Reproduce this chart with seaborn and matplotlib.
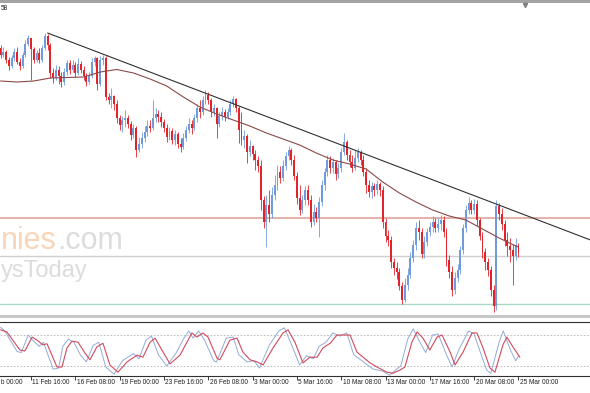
import numpy as np
import pandas as pd
import matplotlib
matplotlib.use("Agg")
import matplotlib.pyplot as plt
import matplotlib.transforms as mtrans
from matplotlib.patches import Rectangle
import seaborn as sns

sns.set_style("white")
plt.rcParams['font.family'] = ['Liberation Sans', 'DejaVu Sans']

# ---------------------------------------------
# H4 candles, 9 Feb - 25 Mar (price in points)
# ---------------------------------------------
first_open = 352
close_ = [345, 348, 340, 334, 342, 348, 338, 334, 345, 356,
          362, 351, 340, 347, 340, 352, 364, 355, 327, 322,
          330, 324, 318, 328, 337, 330, 335, 327, 336, 330,
          324, 318, 324, 338, 342, 316, 340, 342, 303, 300,
          304, 296, 282, 275, 280, 282, 276, 265, 272, 250,
          256, 262, 268, 274, 272, 282, 286, 283, 278, 272,
          263, 269, 260, 266, 256, 253, 262, 270, 276, 272,
          282, 292, 288, 300, 305, 300, 288, 292, 276, 284,
          288, 283, 288, 296, 301, 292, 270, 260, 264, 248,
          254, 246, 240, 234, 200, 178, 195, 186, 205, 215,
          228, 222, 234, 244, 250, 240, 224, 202, 190, 200,
          210, 200, 178, 188, 182, 198, 215, 228, 240, 232,
          238, 226, 232, 248, 258, 245, 238, 232, 242, 248,
          240, 228, 215, 208, 214, 210, 216, 210, 178, 164,
          160, 138, 132, 128, 114, 100, 115, 125, 142, 155,
          172, 168, 146, 158, 168, 173, 178, 172, 176, 180,
          168, 140, 128, 110, 122, 130, 150, 172, 190, 197,
          190, 196, 180, 164, 148, 138, 130, 110, 94, 194,
          186, 176, 160, 154, 150, 144, 155, 147]
high_ = [355, 353, 350, 343, 345, 352, 353, 342, 348, 360,
         365, 362, 353, 350, 352, 355, 367, 366, 357, 332,
         335, 334, 328, 332, 340, 340, 340, 338, 342, 339,
         334, 327, 328, 342, 344, 343, 344, 345, 344, 307,
         312, 305, 300, 285, 284, 290, 285, 279, 276, 274,
         263, 268, 274, 280, 280, 300, 292, 290, 288, 281,
         276, 273, 272, 270, 268, 262, 267, 274, 282, 280,
         286, 296, 300, 304, 310, 308, 302, 296, 293, 288,
         293, 291, 292, 300, 304, 302, 294, 288, 270, 266,
         260, 255, 250, 244, 240, 204, 205, 210, 213, 225,
         235, 234, 240, 248, 254, 252, 245, 228, 215, 205,
         214, 215, 205, 196, 193, 203, 220, 232, 245, 244,
         242, 240, 237, 252, 267, 260, 250, 245, 250, 252,
         250, 245, 232, 220, 218, 217, 220, 218, 214, 182,
         170, 164, 142, 138, 132, 118, 122, 132, 148, 160,
         178, 180, 172, 164, 172, 178, 184, 182, 182, 185,
         184, 172, 145, 134, 128, 136, 154, 176, 195, 203,
         200, 201, 200, 182, 168, 152, 142, 134, 115, 200,
         197, 192, 180, 168, 162, 156, 162, 157]
low_ = [342, 343, 337, 330, 332, 339, 336, 330, 332, 343,
        354, 320, 337, 338, 337, 338, 350, 350, 322, 317,
        320, 316, 313, 315, 325, 326, 328, 323, 325, 327,
        320, 314, 316, 322, 334, 310, 314, 335, 300, 296,
        292, 290, 277, 270, 268, 273, 272, 260, 262, 243,
        248, 252, 258, 264, 268, 270, 278, 278, 273, 268,
        258, 260, 256, 255, 252, 248, 251, 259, 267, 266,
        270, 278, 282, 285, 296, 296, 283, 284, 262, 273,
        280, 279, 281, 285, 293, 288, 257, 255, 252, 237,
        244, 240, 230, 228, 190, 172, 153, 178, 182, 200,
        210, 217, 219, 230, 240, 235, 220, 196, 185, 187,
        195, 195, 173, 175, 178, 163, 194, 210, 224, 227,
        227, 220, 222, 228, 245, 240, 233, 228, 230, 238,
        235, 224, 207, 203, 202, 204, 206, 204, 172, 158,
        154, 132, 125, 121, 110, 96, 98, 110, 122, 138,
        150, 160, 142, 142, 154, 164, 168, 168, 168, 170,
        163, 134, 122, 104, 106, 118, 126, 146, 168, 186,
        186, 186, 174, 160, 142, 130, 124, 104, 88, 90,
        180, 170, 154, 144, 138, 115, 140, 143]

# moving average
ma_bars = [0, 6, 12, 18, 24, 30, 36, 42, 48, 54, 60, 66, 72, 78, 84, 90, 96,
           102, 108, 114, 120, 126, 132, 138, 144, 150, 156, 162, 168, 174,
           180, 186, 187]
ma_vals = [319, 318, 319, 322, 322.5, 323, 328, 330.5, 327, 321, 314, 303, 293,
           286, 280, 274, 267, 261, 255, 247, 240, 236, 231, 218, 207, 198, 190,
           184, 180, 171, 162, 154, 153]

# trend line anchors and horizontal levels
trend_bars = [17, 213]
trend_vals = [367, 160]
level_red = 182
level_grey = 144
level_green = 96

# stochastic oscillator
stoch_main_bars = [0, 1.5, 6, 7.5, 10, 12, 14, 15.5, 19, 21,
                   22.5, 24.5, 26.5, 29, 31, 33.5, 35.5, 38, 41, 44,
                   48, 50, 52.5, 54.5, 57, 60, 63.5, 66, 68, 69.5,
                   71.5, 73.5, 77, 78, 81.5, 84, 86, 89, 91.5, 93.5,
                   97, 100.5, 102.5, 105, 108, 110.5, 113, 115, 117.5, 120,
                   122.5, 125, 127.5, 129.5, 132, 134.5, 138, 140.5, 143, 144.5,
                   147, 149, 151, 153.5, 156, 158, 161, 163, 165.5, 169,
                   171, 173, 175.5, 177, 180, 181.5, 184, 186, 187]
stoch_main = [95, 88, 48, 46, 80, 68, 58, 66, 14, 16,
              58, 72, 66, 40, 28, 60, 66, 18, 4, 30,
              44, 34, 70, 78, 42, 20, 46, 72, 88, 74,
              88, 72, 30, 28, 74, 76, 42, 28, 30, 16,
              60, 88, 94, 62, 22, 40, 34, 58, 66, 84,
              78, 84, 42, 34, 24, 14, 10, 2, 14, 20,
              72, 92, 70, 46, 80, 82, 42, 18, 52, 88,
              82, 50, 12, 6, 66, 88, 52, 30, 40]
stoch_sig_bars = [0, 2.3, 7, 8.8, 11.4, 13.2, 15.3, 16.8, 20.4, 22.2,
                  24, 25.8, 28, 30.5, 32.3, 34.8, 37, 39.5, 42.4, 45.7,
                  49.3, 51.4, 54, 55.8, 58.7, 61.2, 64.8, 67.3, 69.1, 70.9,
                  73.1, 74.9, 78.2, 79.2, 82.8, 85.4, 87.5, 90.1, 92.6, 94.8,
                  98.4, 102, 103.8, 106.3, 109.2, 111.7, 114.3, 116.4, 119, 121.5,
                  123.6, 126.2, 128.7, 130.9, 133.4, 135.9, 139.5, 141.7, 144.2, 146,
                  148.5, 150.4, 152.5, 155, 157.6, 159.4, 162.3, 164.1, 167, 170.2,
                  172, 174.2, 176.7, 178.5, 181.4, 182.8, 185, 187.5]
stoch_sig = [90, 86, 51, 49, 76, 70, 61, 63, 18, 18,
             55, 68, 66, 45, 32, 57, 64, 22, 8, 28,
             41, 37, 66, 74, 47, 24, 41, 66, 84, 76,
             84, 76, 35, 32, 70, 74, 47, 32, 28, 22,
             55, 84, 90, 66, 26, 37, 37, 55, 64, 80,
             80, 80, 47, 37, 26, 18, 8, 6, 12, 18,
             66, 86, 74, 51, 76, 80, 47, 22, 47, 84,
             84, 55, 16, 8, 61, 76, 57, 37]

# time axis; the first label is cut by the window edge, only its tail shows
tick_bars = [-0.4, 11, 27, 43, 59, 75, 91, 107, 123, 139, 155, 171, 187]
tick_labels = ["b 00:00", "11 Feb 16:00", "16 Feb 08:00", "19 Feb 00:00",
               "23 Feb 16:00", "26 Feb 08:00", "3 Mar 00:00", "5 Mar 16:00",
               "10 Mar 08:00", "13 Mar 00:00", "17 Mar 16:00", "20 Mar 08:00",
               "25 Mar 00:00"]

BLUE = '#6f9bdc'
RED = '#e3232b'

W, H = 590, 393
fig = plt.figure(figsize=(W / 100, H / 100), dpi=100)
fig.patch.set_facecolor('white')


def fx(px):
    return px / W


def fy(py):
    return 1 - py / H


ax = fig.add_axes([0, fy(315), 1, (315 - 3) / H])
ax_s = fig.add_axes([0, fy(376), 1, (376 - 322) / H])

xlim = (-0.5 / 2.77, (W - 0.5) / 2.77)

# ------------------------------
# main window
# ------------------------------
df = pd.DataFrame({'bar': np.arange(len(close_)), 'c': close_, 'h': high_, 'l': low_})
df['o'] = [first_open] + close_[:-1]
colors = np.where(df['c'] >= df['o'], BLUE, RED)

# watermark (only the visible part of the logo)
ax.text(fx(1), fy(249), "nies", transform=fig.transFigure, ha='left', va='baseline',
        fontsize=22, color='#f8d4b8', zorder=0)
ax.text(fx(57), fy(249), ".com", transform=fig.transFigure, ha='left', va='baseline',
        fontsize=22, color='#dcdcdc', zorder=0)
ax.text(fx(1), fy(277), "ysToday", transform=fig.transFigure, ha='left', va='baseline',
        fontsize=17, color='#dcdcdc', zorder=0)

ax.axhline(level_red, color='#dc9c92', lw=1.1, zorder=1)
ax.axhline(level_grey, color='#d0d0d0', lw=1.0, zorder=1)
ax.axhline(level_green, color='#a6d9c6', lw=1.0, zorder=1)

ax.vlines(df['bar'], df['l'], df['h'], colors=colors, lw=0.6, zorder=2)
body_lo = df[['o', 'c']].min(axis=1)
body_h = (df['c'] - df['o']).abs().clip(lower=0.8)
ax.bar(df['bar'], body_h, bottom=body_lo, width=0.7, color=colors, linewidth=0, zorder=2)

sns.lineplot(x=ma_bars, y=ma_vals, ax=ax, color='#8a4a48', lw=0.8, sort=False,
             estimator=None, zorder=3)
sns.lineplot(x=trend_bars, y=trend_vals, ax=ax, color='#303030', lw=0.8, sort=False,
             estimator=None, zorder=4)

ax.set_xlim(*xlim)
ax.set_ylim(85, 397)
ax.set_xticks([])
ax.set_yticks([])
ax.set_xlabel("")
ax.set_ylabel("")
for s in ax.spines.values():
    s.set_visible(False)

# ------------------------------
# stochastic window
# ------------------------------
ax_s.axhline(80, color='#b4b4b4', lw=0.6, ls=(0, (2, 2)))
ax_s.axhline(20, color='#b4b4b4', lw=0.6, ls=(0, (2, 2)))
sns.lineplot(x=stoch_main_bars, y=stoch_main, ax=ax_s, color='#92acd8', lw=0.7,
             sort=False, estimator=None)
sns.lineplot(x=stoch_sig_bars, y=stoch_sig, ax=ax_s, color='#d24a5c', lw=0.8,
             sort=False, estimator=None)
ax_s.set_xlim(*xlim)
ax_s.set_ylim(0.6, 105.2)
ax_s.set_yticks([])
ax_s.set_xlabel("")
ax_s.set_ylabel("")
ax_s.set_xticks(tick_bars[1:])
ax_s.set_xticklabels([])
ax_s.tick_params(axis='x', direction='out', length=3, width=0.6, color='#202020', bottom=True)
for side in ['left', 'right']:
    ax_s.spines[side].set_visible(False)
for side in ['top', 'bottom']:
    ax_s.spines[side].set_visible(True)
    ax_s.spines[side].set_color('#303030')
    ax_s.spines[side].set_linewidth(0.8)

trans = mtrans.blended_transform_factory(ax_s.transData, fig.transFigure)
trans = mtrans.offset_copy(trans, fig=fig, x=1.5, y=0, units='dots')
for b, lab in zip(tick_bars, tick_labels):
    ax_s.text(b, fy(383), lab, transform=trans, ha='left', va='center',
              fontsize=4.7, color='#202020', clip_on=False)

# window borders
fig.add_artist(Rectangle((0, fy(3)), 1, 3 / H, transform=fig.transFigure,
                         color='#a4a4a4', lw=0))
fig.add_artist(Rectangle((0, fy(318)), 1, 3 / H, transform=fig.transFigure,
                         color='#c8c8c8', lw=0))
fig.text(fx(1), fy(9), "58", ha='left', va='center', fontsize=4.7, color='#202020')
fig.add_artist(plt.Line2D([fx(525)], [fy(4.5)], marker='v', markersize=3,
                          color='#808080', transform=fig.transFigure))

fig.savefig("out.png", dpi=100, facecolor='white')
